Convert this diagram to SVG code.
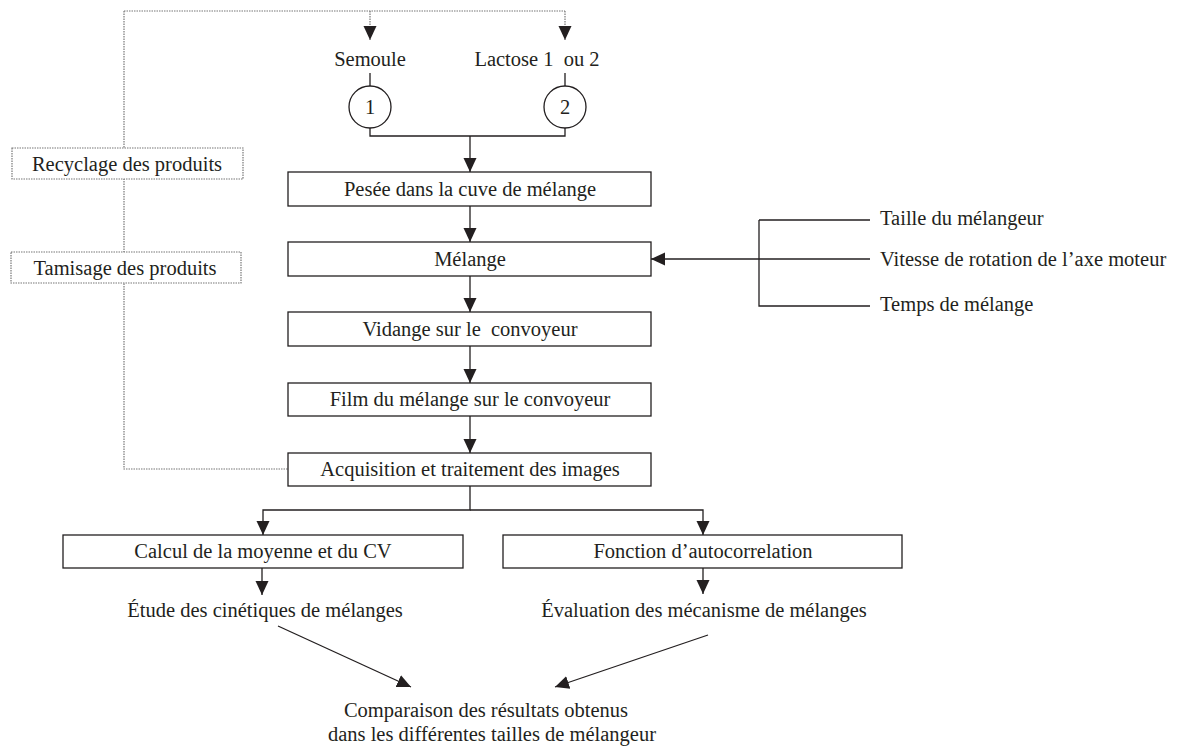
<svg xmlns="http://www.w3.org/2000/svg" width="1191" height="747" viewBox="0 0 1191 747">
<style>
text{font-family:"Liberation Serif","Times New Roman",serif;font-size:20.5px;fill:#231f20}
.c{text-anchor:middle}
.box{fill:#fff;stroke:#231f20;stroke-width:1.3}
.dbox{fill:#fff;stroke:#777;stroke-width:1.2;stroke-dasharray:1.5 1}
.ln{fill:none;stroke:#231f20;stroke-width:1.3}
.dl{fill:none;stroke:#777;stroke-width:1.2;stroke-dasharray:1.5 1}
</style>
<defs>
<marker id="ah" markerUnits="userSpaceOnUse" markerWidth="15" markerHeight="15" viewBox="0 0 15 15" refX="14" refY="7.5" orient="auto">
<path d="M0,1 L14,7.5 L0,14 Z" fill="#231f20"/>
</marker>
</defs>
<rect width="1191" height="747" fill="#fff"/>
<g id="connectors">
<path class="dl" d="M124,11 H565 M124,11 V469 H288"/>
<path class="dl" d="M370,11 V40" marker-end="url(#ah)"/>
<path class="dl" d="M565,11 V40" marker-end="url(#ah)"/>
<path class="ln" d="M370,73 V86 M370,128 V136 H565 V128 M565,73 V86"/>
<path class="ln" d="M470,136 V172" marker-end="url(#ah)"/>
<path class="ln" d="M470,206 V242" marker-end="url(#ah)"/>
<path class="ln" d="M470,276 V312" marker-end="url(#ah)"/>
<path class="ln" d="M470,346 V383" marker-end="url(#ah)"/>
<path class="ln" d="M470,416 V453" marker-end="url(#ah)"/>
<path class="ln" d="M759,220 H870 M759,220 V306 H870"/>
<path class="ln" d="M870,259 H651" marker-end="url(#ah)"/>
<path class="ln" d="M470,486 V510 H263 V535" marker-end="url(#ah)"/>
<path class="ln" d="M470,510 H703 V535" marker-end="url(#ah)"/>
<path class="ln" d="M262,568 V595" marker-end="url(#ah)"/>
<path class="ln" d="M703,568 V594" marker-end="url(#ah)"/>
<path class="ln" d="M278,626 L411,687" marker-end="url(#ah)"/>
<path class="ln" d="M708,635 L555,687" marker-end="url(#ah)"/>
</g>
<g id="semoule"><text class="c" x="370" y="66">Semoule</text><circle class="box" cx="370" cy="107" r="21"/><text class="c" x="370" y="114">1</text></g>
<g id="lactose"><text class="c" x="537" y="66" xml:space="preserve">Lactose 1  ou 2</text><circle class="box" cx="565" cy="107" r="21"/><text class="c" x="565" y="114">2</text></g>
<g id="recyclage"><rect class="dbox" x="12" y="148" width="231" height="31"/><text class="c" x="127" y="171">Recyclage des produits</text></g>
<g id="tamisage"><rect class="dbox" x="11" y="252" width="230" height="31"/><text class="c" x="125" y="275">Tamisage des produits</text></g>
<g id="pesee"><rect class="box" x="288" y="172" width="363" height="34"/><text class="c" x="470" y="196">Pesée dans la cuve de mélange</text></g>
<g id="melange"><rect class="box" x="288" y="242" width="363" height="34"/><text class="c" x="470" y="266">Mélange</text></g>
<g id="vidange"><rect class="box" x="288" y="312" width="363" height="34"/><text class="c" x="470" y="336" xml:space="preserve">Vidange sur le  convoyeur</text></g>
<g id="film"><rect class="box" x="288" y="383" width="363" height="33"/><text class="c" x="470" y="406">Film du mélange sur le convoyeur</text></g>
<g id="acquisition"><rect class="box" x="288" y="453" width="363" height="33"/><text class="c" x="470" y="476">Acquisition et traitement des images</text></g>
<g id="params">
<text x="880" y="225">Taille du mélangeur</text>
<text x="880" y="266">Vitesse de rotation de l’axe moteur</text>
<text x="880" y="311">Temps de mélange</text>
</g>
<g id="calcul"><rect class="box" x="63" y="535" width="400" height="33"/><text class="c" x="263" y="558">Calcul de la moyenne et du CV</text></g>
<g id="fonction"><rect class="box" x="503" y="535" width="399" height="33"/><text class="c" x="703" y="558">Fonction d’autocorrelation</text></g>
<g id="etude"><text class="c" x="265" y="617">Étude des cinétiques de mélanges</text></g>
<g id="evaluation"><text class="c" x="704" y="617">Évaluation des mécanisme de mélanges</text></g>
<g id="comparaison"><text class="c" x="486" y="717">Comparaison des résultats obtenus</text><text class="c" x="492" y="741">dans les différentes tailles de mélangeur</text></g>
</svg>
